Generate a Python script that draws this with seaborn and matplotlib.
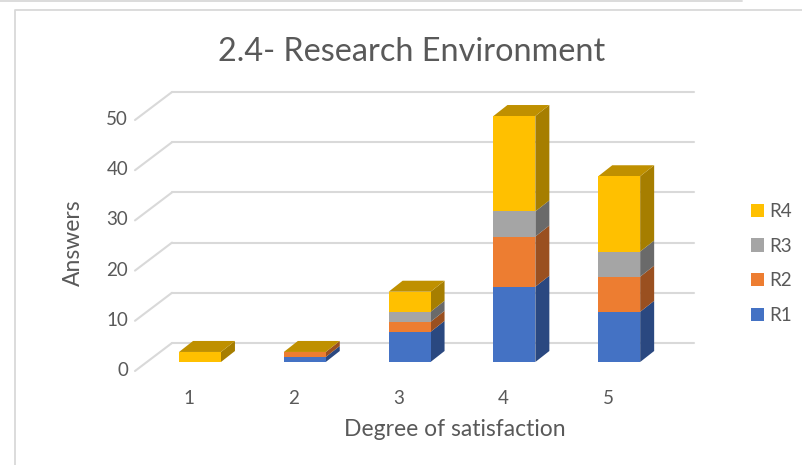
import matplotlib
matplotlib.use("Agg")
import matplotlib.pyplot as plt
from matplotlib.lines import Line2D
from matplotlib.patches import Polygon
import numpy as np
import pandas as pd
import seaborn as sns

degrees = ["1", "2", "3", "4", "5"]
r1 = [0, 1, 6, 15, 10]
r2 = [0, 1, 2, 10, 7]
r3 = [0, 0, 2, 5, 5]
r4 = [2, 0, 4, 19, 15]
y_ticks = [0, 10, 20, 30, 40, 50]

series = ["R1", "R2", "R3", "R4"]
front_colors = ["#4472C4", "#ED7D31", "#A5A5A5", "#FFC000"]
side_colors = ["#2A4880", "#9A5020", "#6A6A6A", "#A67E00"]
top_color = "#BF9000"
text_color = "#595959"
grid_color = "#D9D9D9"

df = pd.DataFrame({"degree": degrees, "R1": r1, "R2": r2, "R3": r3, "R4": r4})

sns.set_theme(style="white")
plt.rcParams["font.family"] = ["Lato", "DejaVu Sans"]

W, H = 803, 465
fig = plt.figure(figsize=(W / 100, H / 100), dpi=100)
# axes box in pixels: left 135, right 694, top 80, bottom 380
ax = fig.add_axes([135 / W, 1 - 380 / H, (694 - 135) / W, 300 / H])

px_x = 104.8   # pixels per category
px_y = 5.02    # pixels per answer

# stacked front faces
bottom = np.zeros(len(degrees))
for name, col in zip(series, front_colors):
    sns.barplot(data=df, x="degree", y=name, bottom=bottom, width=0.4, color=col,
                saturation=1, label=name, ax=ax, zorder=3, linewidth=0)
    bottom = bottom + df[name].values

ax.set_xlim(-65 / px_x, 494 / px_x)
ax.set_ylim(-18 / px_y, 282 / px_y)

# depth of the bars
dx = 14 / px_x
dy = 11 / px_y
bars = list(ax.patches)
n = len(degrees)
for k, side in enumerate(side_colors):
    for b in bars[k * n:(k + 1) * n]:
        x1 = b.get_x() + b.get_width()
        y0 = b.get_y()
        y1 = y0 + b.get_height()
        if b.get_height() > 0:
            ax.add_patch(Polygon([(x1, y0), (x1 + dx, y0 + dy), (x1 + dx, y1 + dy), (x1, y1)],
                                 facecolor=side, edgecolor="none", zorder=2))

# top faces
for i, b in enumerate(bars[:n]):
    x0 = b.get_x()
    x1 = x0 + b.get_width()
    t = bottom[i]
    ax.add_patch(Polygon([(x0, t), (x1, t), (x1 + dx, t + dy), (x0 + dx, t + dy)],
                         facecolor=top_color, edgecolor="none", zorder=2))

# back wall and side wall gridlines
back_x = 172
for v in y_ticks:
    yb = v + 19 / px_y
    yf = v - 9 / px_y
    ax.plot([(135 - 200) / px_x, (back_x - 200) / px_x], [yf, yb], color=grid_color, lw=1.5,
            zorder=1, clip_on=False, solid_capstyle="round")
    ax.plot([(back_x - 200) / px_x, (694 - 200) / px_x], [yb, yb], color=grid_color, lw=1.5,
            zorder=1, clip_on=False, solid_capstyle="round")

sns.despine(ax=ax, left=True, bottom=True, top=True, right=True)
ax.set_xticks(np.arange(n) - 11 / px_x, degrees)
ax.set_yticks(np.array(y_ticks) - 7 / px_y, y_ticks)
ax.tick_params(axis="both", length=0, colors=text_color, labelsize=13.5)
ax.tick_params(axis="x", pad=7.5)
ax.tick_params(axis="y", pad=5)

ax.set_xlabel("Degree of satisfaction", fontsize=16.5, color=text_color)
ax.xaxis.set_label_coords((455 - 135) / 559, -(429 - 380) / 300 + 0.032)
ax.set_ylabel("Answers", fontsize=16.5, color=text_color)
ax.yaxis.set_label_coords((84 - 135) / 559, (380 - 243) / 300)
fig.text(412 / W, 1 - 52 / H, "2.4- Research Environment", fontsize=23.3, color=text_color,
         ha="center", va="center")

handles, labels = ax.get_legend_handles_labels()
ax.legend(handles[::-1], labels[::-1], loc="center left", frameon=False,
          bbox_to_anchor=(751 / W, 1 - 263.5 / H), bbox_transform=fig.transFigure,
          fontsize=13.5, labelcolor=text_color, handlelength=0.7, handleheight=0.7,
          handletextpad=0.28, labelspacing=0.95, borderpad=0, borderaxespad=0)

# outer frame of the chart
fig.add_artist(Line2D([15 / W, 15 / W, 1], [0, 1 - 10 / H, 1 - 10 / H], color=grid_color, lw=1.3))
fig.add_artist(Line2D([0, 742 / W], [1 - 1 / H, 1 - 1 / H], color=grid_color, lw=1.3))

fig.savefig("out.png", dpi=100)
plt.close(fig)
